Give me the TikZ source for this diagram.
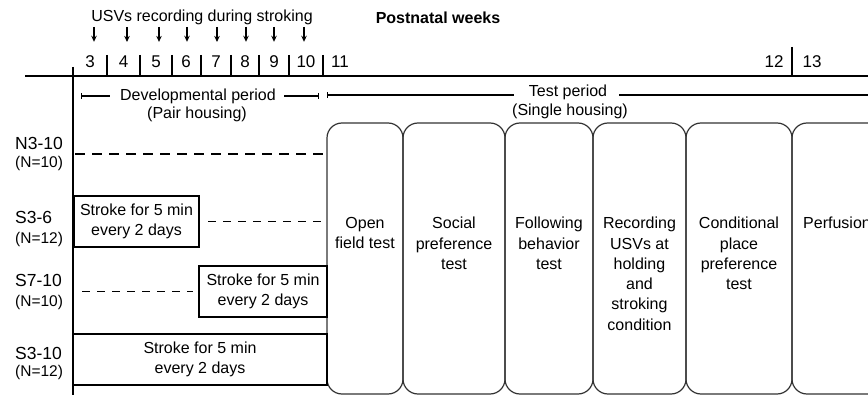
\documentclass[tikz,border=0pt]{standalone}
\usepackage{fontspec}
\setmainfont{Liberation Sans}
\usetikzlibrary{positioning,arrows.meta}

\begin{document}
\begin{tikzpicture}[x=1pt,y=-1pt,>={Stealth[length=6pt,width=5.5pt]}]
  \tikzstyle{txt}=[inner sep=0pt,align=center,font=\fontsize{16}{20.3}\selectfont]
  \tikzstyle{week}=[inner sep=0pt,font=\fontsize{17}{20}\selectfont]
  \tikzstyle{grp}=[inner sep=0pt,anchor=west,font=\fontsize{17.5}{20}\selectfont]
  \tikzstyle{cnt}=[inner sep=0pt,anchor=west,font=\fontsize{15.5}{18}\selectfont]
  \tikzstyle{axis}=[line width=2.4pt]
  \tikzstyle{usv}=[->,line width=1.2pt,shorten >=14pt]
  \tikzstyle{period}=[line width=1.1pt]
  \tikzstyle{stroke}=[draw,line width=1.2pt,minimum height=51pt,inner sep=0pt,outer sep=0pt,align=center,font=\fontsize{16}{20}\selectfont]
  \tikzstyle{testbox}=[draw=black!80,line width=1.2pt,rounded corners=15pt,minimum height=271pt,outer sep=0pt]
  \tikzstyle{gap}=[line width=1.2pt,dash pattern=on 8pt off 7pt]

  \clip (0,0) rectangle (868,395);

  % time axis
  \coordinate (o) at (73,76);
  \draw[axis] (25,76) -- (868,76);
  \draw[line width=2pt] (73,67) -- (73,395);
  \foreach \x in {107,140,172,201,231,259,289,323}
    \draw[axis] (\x,55) -- (\x,76);
  \draw[axis] (792,47) -- (792,76);

  \foreach \x/\w in {90/3,123.5/4,156/5,186/6,216/7,245/8,274/9,306/10,340/11,774/12,812/13}
    \node[week] (w\w) at (\x,62) {\w};

  \node[txt] (usv) at (202,17) {USVs recording during stroking};
  \node[txt,font=\fontsize{16}{20}\selectfont\bfseries] (pnw) at (438,18) {Postnatal weeks};

  \foreach \x/\w in {94/3,127/4,159/5,187/6,217/7,246/8,274/9,304/10} {
    \coordinate (a\w) at (\x,27);
    \draw[usv] (a\w) -- (a\w |- w\w.north);
  }

  % periods
  \node[txt] (dev) at (198,96) {Developmental period};
  \node[txt] (pair) at (197,114.5) {(Pair housing)};
  \coordinate (dl) at (81,96);
  \coordinate (dr) at (319,96);
  \draw[period,{Bar[width=6pt]}-,shorten >=10pt] (dl) -- (dev.west);
  \draw[period,-{Bar[width=6pt]},shorten <=8pt] (dev.east) -- (dr);

  \node[txt] (test) at (568,92) {Test period};
  \node[txt] (single) at (570,111) {(Single housing)};
  \coordinate (tl) at (327,95);
  \coordinate (tr) at (868,95);
  \draw[period,{Bar[width=6pt]}-,shorten >=15pt] (tl) -- (tl -| test.west);
  \draw[period,shorten <=12pt] (test.east |- tl) -- (tr);

  % tests
  \node[testbox,minimum width=76pt] (t1) at (365,258.5) {};
  \node[testbox,minimum width=102pt,right=0pt of t1] (t2) {};
  \node[testbox,minimum width=88pt,right=0pt of t2] (t3) {};
  \node[testbox,minimum width=93pt,right=0pt of t3] (t4) {};
  \node[testbox,minimum width=106pt,right=0pt of t4] (t5) {};
  \node[testbox,minimum width=90pt,right=0pt of t5] (t6) {};

  \node[txt,below=94pt of t1.north] (l1) {Open\\field test};
  \node[txt,below=94pt of t2.north] (l2) {Social\\preference\\test};
  \node[txt,below=94pt of t3.north] (l3) {Following\\behavior\\test};
  \node[txt,below=94pt of t4.north] (l4) {Recording\\USVs at\\holding\\and\\stroking\\condition};
  \node[txt,below=94pt of t5.north] (l5) {Conditional\\place\\preference\\test};
  \node[txt,below=94pt of t6.north] (l6) {Perfusion};

  % groups
  \node[grp] (g1) at (15,143) {N3-10};
  \node[cnt] (g1n) at (15,163) {(N=10)};
  \node[grp] (g2) at (15,217) {S3-6};
  \node[cnt] (g2n) at (15,239) {(N=12)};
  \node[grp] (g3) at (15,280) {S7-10};
  \node[cnt] (g3n) at (15,302) {(N=10)};
  \node[grp] (g4) at (15,353) {S3-10};
  \node[cnt] (g4n) at (15,372) {(N=12)};

  \node[stroke,minimum width=125pt] (s36) at (136.5,221.5) {Stroke for 5 min\\every 2 days};
  \node[stroke,minimum width=128pt] (s710) at (263,291.5) {Stroke for 5 min\\every 2 days};
  \node[stroke,minimum width=254pt] (s310) at (200,359.5) {Stroke for 5 min\\every 2 days};

  \coordinate (n) at (75,154);
  \draw[line width=1.8pt,dash pattern=on 10pt off 7pt] (n) -- (n -| t1.west);
  \draw[gap,shorten <=9pt,shorten >=5pt] (s36.east) -- (s36.east -| t1.west);
  \draw[gap,shorten <=9pt,shorten >=6pt] (s710.west -| o) -- (s710.west);
\end{tikzpicture}
\end{document}
